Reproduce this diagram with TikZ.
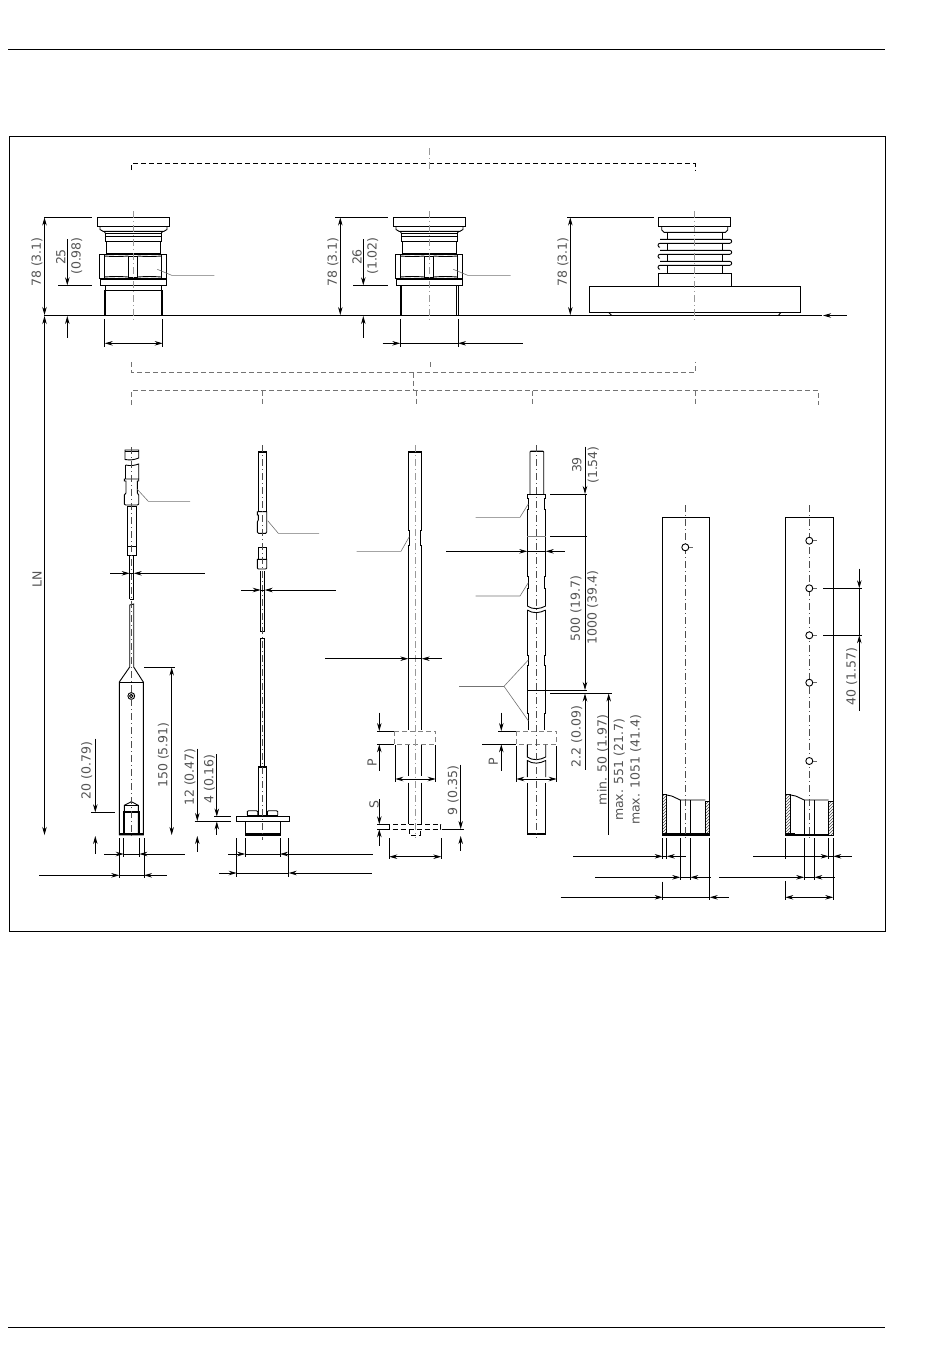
\documentclass[tikz,border=0pt]{standalone}
\usepackage{fontspec}
\setmainfont{DejaVu Sans}
\usetikzlibrary{arrows.meta,patterns}
\definecolor{dimtext}{gray}{0.33}
\definecolor{cline}{gray}{0.6}
\tikzset{
	main/.style = {draw=black, line width=0.9pt},
	heavy/.style = {draw=black, line width=1.8pt},
	dim/.style = {draw=black, line width=0.8pt},
	ext/.style = {draw=black, line width=0.7pt},
	leader/.style = {draw=black!55, line width=0.6pt},
	axis/.style = {draw=cline, line width=0.6pt, dash pattern=on 7pt off 3pt on 1pt off 3pt},
	probeaxis/.style = {draw=black!70, line width=0.5pt, dash pattern=on 7pt off 3pt on 1pt off 3pt},
	bracket/.style = {draw=black, line width=0.6pt, dash pattern=on 5pt off 3pt},
	graybracket/.style = {draw=black!55, line width=0.7pt, dash pattern=on 5pt off 3pt},
	graybox/.style = {draw=black!50, line width=1pt, dash pattern=on 5pt off 3pt},
	hatch/.style = {draw=black, line width=0.7pt, pattern=north east lines, pattern color=black!70},
	lab/.style = {text=dimtext, rotate=90, inner sep=0pt, font=\fontsize{12.5}{14}\selectfont},
}
\newcommand{\fittinghead}{
	\draw[main] (97.3,217.3) rectangle (169.7,226.7);
	\draw[main] (100,226.7) -- (100,229.5) -- (103,231.3) -- (164,231.3) -- (167,229.5) -- (167,226.7);
	\draw[main] (105.3,233) rectangle (161.3,241);
	\draw[main] (105.3,236) -- (161.3,236);
	\draw[main] (104,231.3) -- (105.3,233) (163,231.3) -- (161.3,233);
	\draw[main] (106.7,241) rectangle (160,253.3);
	\draw[main] (99.3,254.3) rectangle (166.7,278.7);
	\draw[main] (104.3,254.3) -- (104.3,278.7) (161.3,254.3) -- (161.3,278.7);
	\draw[main] (128.3,256) rectangle (137.7,277);
	\draw[main] (104.3,256) to[bend right=4] (128.3,256) (137.7,256) to[bend right=4] (161.3,256);
	\draw[main] (104.3,277) to[bend left=4] (128.3,277) (137.7,277) to[bend left=4] (161.3,277);
	\draw[main] (100.3,279.3) rectangle (166,285.3);
}
\begin{document}
\begin{tikzpicture}[x=1pt, y=-1pt, >={Stealth[length=8pt,width=4.5pt]}]
	\useasboundingbox (0,0) rectangle (950,1369);

	\draw[main] (8,49.5) -- (885,49.5);
	\draw[main] (8,1327.5) -- (885,1327.5);
	\draw[main] (9.5,136.5) rectangle (885,931);

	\draw[bracket] (131.5,170) -- (131.5,163.5) -- (695,163.5) -- (695,170);
	\draw[axis] (429,148) -- (429,172);
	\draw[graybracket] (131.5,362) -- (131.5,372.5) -- (695,372.5) -- (695,362);
	\draw[graybracket] (430.5,362) -- (430.5,367);
	\draw[graybracket] (413.5,372.5) -- (413.5,390.5);
	\draw[graybracket] (131.5,405) -- (131.5,390.5) -- (818.5,390.5) -- (818.5,405);
	\foreach \xa in {262.5,416.5,532.5,695} {
		\draw[graybracket] (\xa,390.5) -- (\xa,405);
	}

	\draw[main] (44,315.5) -- (822,315.5);
	\draw[dim,<-] (823,315.5) -- (847,315.5);

	% first fitting
	\fittinghead
	\draw[main] (105.3,285.3) -- (105.3,290) (161.3,285.3) -- (161.3,290);
	\draw[main] (104.7,290) rectangle (162.7,315.5);
	\draw[main] (105.7,290) -- (105.7,315.5) (161.3,290) -- (161.3,315.5);
	\draw[axis] (133,211) -- (133,322);
	\draw[leader] (157.3,269.3) -- (171.7,275.3) -- (214.3,275.3);
	\draw[ext] (44,217.3) -- (92,217.3);
	\draw[ext] (58,285.3) -- (92,285.3);
	\draw[dim,<->] (44.5,217.5) -- (44.5,315);
	\draw[dim,<->] (44.5,316) -- (44.5,835);
	\draw[dim,->] (67.3,239) -- (67.3,285.3);
	\draw[dim,<-] (67.3,316) -- (67.3,337.5);
	\draw[ext] (104.7,319) -- (104.7,346.5) (162.7,319) -- (162.7,346.5);
	\draw[dim,<->] (104.7,343.3) -- (162.7,343.3);
	\node[lab] (h1) at (37,262) {78 (3.1)};
	\node[lab] (d1) at (60.7,257) {25};
	\node[lab] (i1) at (76.7,256) {(0.98)};
	\node[lab] (ln) at (37,579) {LN};

	% second fitting
	\begin{scope}[xshift=296pt]
		\fittinghead
		\draw[axis] (133,211) -- (133,322);
		\draw[leader] (157.3,269.3) -- (171.7,275.3) -- (214.7,275.3);
	\end{scope}
	\draw[main] (400.3,285.3) -- (400.3,315.5) (458,285.3) -- (458,315.5);
	\draw[main] (401.4,285.3) -- (401.4,315.5) (456.8,285.3) -- (456.8,315.5);
	\draw[ext] (335,217.3) -- (388,217.3);
	\draw[ext] (353,285.3) -- (388,285.3);
	\draw[dim,<->] (340.3,217.5) -- (340.3,315);
	\draw[dim,->] (363.3,239) -- (363.3,285.3);
	\draw[dim,<-] (363.3,316) -- (363.3,337.5);
	\draw[ext] (400.3,319) -- (400.3,346.5) (458,319) -- (458,346.5);
	\draw[dim,->] (382.5,343.3) -- (400.3,343.3);
	\draw[dim] (400.3,343.3) -- (458,343.3);
	\draw[dim,<-] (458,343.3) -- (522.5,343.3);
	\node[lab] (h2) at (333,262) {78 (3.1)};
	\node[lab] (d2) at (357,257) {26};
	\node[lab] (i2) at (372.7,256) {(1.02)};

	% third fitting
	\draw[main] (658.3,217.3) rectangle (730.7,226.7);
	\draw[main] (661.7,226.7) -- (661.7,230) to[bend right=20] (664,232.3) -- (725.5,232.3) to[bend right=20] (727.7,230) -- (727.7,226.7);
	\draw[main] (667.3,232.3) -- (667.3,273.3) (722.7,232.3) -- (722.7,273.3);
	\foreach \ya in {239.3,250.3,261.3} {
		\draw[main, fill=white] (660,\ya) -- (729.7,\ya) arc (-90:90:2) -- (660,\ya+4) arc (270:90:2);
	}
	\draw[main] (658.3,273.3) rectangle (731.7,286.3);
	\draw[main] (589.3,286.3) rectangle (800.7,312.7);
	\draw[main] (609,312.7) -- (611.7,315.5) (780.7,312.7) -- (778.3,315.5);
	\draw[axis] (694.7,211) -- (694.7,322);
	\draw[ext] (567,217.3) -- (654,217.3);
	\draw[dim,<->] (570.3,217.5) -- (570.3,315);
	\node[lab] (h3) at (563,262) {78 (3.1)};

	% rope probe
	\draw[main] (125,450) -- (138.7,450) -- (138.7,458) to[bend left=15] (125,459.5) -- cycle;
	\draw[main] (125,451.5) -- (138.7,451.5);
	\draw[main] (125.5,465) to[bend right=15] (138.7,464) -- (138.7,479);
	\draw[main] (125.5,465) -- (125.5,479);
	\draw[main] (124.3,479) -- (138.7,479) -- (138.7,481) -- (137.3,481) -- (137.3,493) -- (138.7,495) -- (138.7,504) -- (137.5,505) -- (125.5,505) -- (124.3,504) -- (124.3,495) -- (126,493) -- (126,481) -- (124.3,481) -- cycle;
	\draw[main] (127.3,506) rectangle (136.7,555);
	\draw[heavy] (127.3,506.5) -- (136.7,506.5);
	\draw[main] (127.3,546) rectangle (136.7,555.5);
	\draw[main] (129.7,556) -- (129.7,599) (133.7,556) -- (133.7,599) (129.7,599) -- (133.7,599);
	\draw[main] (129.7,667) -- (129.7,605) -- (133.7,604) -- (133.7,667);
	\draw[main] (129.7,667) -- (119.3,682) -- (119.3,835) -- (143.3,835) -- (143.3,682) -- (133.7,667);
	\draw[main] (119.3,682) -- (143.3,682);
	\draw[main] (131.3,696) circle (3.4);
	\draw[main] (131.3,696) circle (1.8);
	\draw[main] (124.3,834) -- (124.3,805.3) -- (131.3,801.7) -- (138.3,805.3) -- (138.3,834);
	\draw[main] (124.3,805.3) -- (138.3,805.3);
	\draw[heavy] (124,834) -- (124,812.3) -- (139.5,812.3) -- (139.5,834);
	\draw[heavy] (120,834.2) -- (143,834.2);
	\draw[probeaxis] (131.3,447) -- (131.3,839);
	\draw[leader] (137.3,489.3) -- (148.3,501.3) -- (190,501.3);
	\draw[dim,->] (110,573.3) -- (129.7,573.3);
	\draw[dim] (129.7,573.3) -- (133.7,573.3);
	\draw[dim,<-] (133.7,573.3) -- (205,573.3);
	\draw[ext] (144,667.3) -- (174.5,667.3);
	\draw[dim,<->] (171.7,667.5) -- (171.7,835);
	\draw[dim,->] (95.3,738.5) -- (95.3,812.3);
	\draw[dim,<-] (95.3,836) -- (95.3,853.5);
	\draw[ext] (91,812.3) -- (115,812.3);
	\draw[dim,->] (197.3,748.5) -- (197.3,821);
	\draw[dim,<-] (197.3,836) -- (197.3,851.5);
	\draw[dim,->] (216.8,754) -- (216.8,816.5);
	\draw[dim,<-] (216.8,821.5) -- (216.8,835);
	\draw[ext] (194.5,821.3) -- (231,821.3);
	\draw[ext] (214,816.3) -- (231,816.3);
	\draw[ext] (119.3,838) -- (119.3,877.5) (144,838) -- (144,877.5);
	\draw[ext] (123.7,838) -- (123.7,857) (139.4,838) -- (139.4,857);
	\draw[dim,->] (104,854) -- (123.7,854);
	\draw[dim] (123.7,854) -- (139.4,854);
	\draw[dim,<-] (139.4,854) -- (185,854);
	\draw[dim,->] (39,875.3) -- (119.3,875.3);
	\draw[dim] (119.3,875.3) -- (144,875.3);
	\draw[dim,<-] (144,875.3) -- (167,875.3);
	\node[lab] (a1) at (86.7,770.7) {20 (0.79)};
	\node[lab] (a2) at (163.5,755) {150 (5.91)};
	\node[lab] (a3) at (190,777) {12 (0.47)};
	\node[lab] (a4) at (209.5,779) {4 (0.16)};

	% rope probe with flange
	\draw[main] (258.3,451) rectangle (266.7,511.7);
	\draw[heavy] (258.3,451.7) -- (266.7,451.7);
	\draw[main] (257.3,511.7) -- (266.7,511.7) -- (266.7,532) -- (265.7,533.3) -- (258.5,533.3) -- (257.3,532) -- (257.3,522) -- (258.3,520) -- (258.3,515) -- (257.3,515) -- cycle;
	\draw[main] (258.3,547.3) rectangle (266.7,559.3);
	\draw[main] (257.3,559.3) -- (266.7,559.3) -- (266.7,568) -- (265.7,569) -- (258.3,569) -- (257.3,568) -- cycle;
	\draw[main] (260.7,571) -- (260.7,631) -- (264.7,631) -- (264.7,571);
	\draw[main] (260.7,766) -- (260.7,638.5) -- (264.7,638.5) -- (264.7,766);
	\draw[main] (258.3,767) rectangle (266.7,815);
	\draw[heavy] (258.3,767) -- (266.7,767);
	\draw[main] (247.3,815) -- (247.3,811.5) -- (248.5,810.7) -- (256.5,810.7) -- (257.7,811.5) -- (257.7,815);
	\draw[main] (267.3,815) -- (267.3,811.5) -- (268.5,810.7) -- (276.5,810.7) -- (277.7,811.5) -- (277.7,815);
	\draw[main] (247.3,815.5) -- (277.7,815.5);
	\draw[main] (236.3,816.3) rectangle (289,821.3);
	\draw[main] (245.3,821.3) -- (245.3,835) -- (280,835) -- (280,821.3);
	\draw[heavy] (245.3,834) -- (280,834);
	\draw[probeaxis] (262.3,445) -- (262.3,840);
	\draw[leader] (267.7,520.7) -- (278.3,533.3) -- (319,533.3);
	\draw[dim,->] (241,590) -- (260.7,590);
	\draw[dim] (260.7,590) -- (264.7,590);
	\draw[dim,<-] (264.7,590) -- (336,590);
	\draw[ext] (236.7,838) -- (236.7,877) (288.7,838) -- (288.7,877);
	\draw[ext] (245.3,838) -- (245.3,857) (280,838) -- (280,857);
	\draw[dim,->] (228.3,854) -- (245.3,854);
	\draw[dim] (245.3,854) -- (280,854);
	\draw[dim,<-] (280,854) -- (372.7,854);
	\draw[dim,->] (219.3,873) -- (236.7,873);
	\draw[dim] (236.7,873) -- (288.7,873);
	\draw[dim,<-] (288.7,873) -- (372,873);

	% rod probe
	\draw[main] (408.3,451) -- (421.7,451);
	\draw[main] (408.3,452.5) -- (421.7,452.5);
	\draw[main] (408.3,451) -- (408.3,530) -- (409.5,530) -- (409.5,545) -- (408.3,545) -- (408.3,730);
	\draw[main] (421.7,451) -- (421.7,530) -- (420.5,530) -- (420.5,545) -- (421.7,545) -- (421.7,730);
	\draw[main] (408.3,744.5) -- (408.3,776) (421.7,744.5) -- (421.7,776);
	\draw[main] (408.3,782.5) -- (408.3,824) (421.7,782.5) -- (421.7,824);
	\draw[graybox] (394.3,731) rectangle (435.7,744);
	\draw[bracket] (389.3,824.3) rectangle (440.7,829);
	\draw[bracket] (409.3,829) -- (409.3,835) -- (420.7,835) -- (420.7,829);
	\draw[axis] (415,445) -- (415,838);
	\draw[leader] (409.3,536.7) -- (401,551.3) -- (356.7,551.3);
	\draw[dim,->] (325,658.7) -- (408.3,658.7);
	\draw[dim] (408.3,658.7) -- (421.7,658.7);
	\draw[dim,<-] (421.7,658.7) -- (442.3,658.7);
	\draw[ext] (395.3,745) -- (395.3,782) (435.7,745) -- (435.7,782);
	\draw[dim,<->] (395.3,779) -- (435.7,779);
	\draw[ext] (377,731) -- (394,731) (377,744.3) -- (394,744.3);
	\draw[dim,->] (379.3,712.5) -- (379.3,731);
	\draw[dim,<-] (379.3,744.3) -- (379.3,771);
	\draw[ext] (377,824.3) -- (389,824.3) (377,829.2) -- (389,829.2);
	\draw[dim,->] (379.3,799) -- (379.3,824.3);
	\draw[dim,<-] (379.3,829.2) -- (379.3,845.5);
	\draw[ext] (442,829) -- (463.5,829);
	\draw[dim,->] (460.7,764.5) -- (460.7,829);
	\draw[dim,<-] (460.7,836) -- (460.7,851);
	\draw[ext] (389.3,838) -- (389.3,859) (441.3,838) -- (441.3,859);
	\draw[dim,<->] (389.3,856.7) -- (441.3,856.7);
	\node[lab] (p1) at (372,762.3) {P};
	\node[lab] (s1) at (374,805) {S};
	\node[lab] (a5) at (453.3,790.7) {9 (0.35)};

	% segmented rod probe
	\draw[main] (530,494.3) -- (530,452) -- (531,451) -- (542.7,451) -- (543.7,452) -- (543.7,494.3);
	\draw[heavy] (531,451.5) -- (542.7,451.5);
	\draw[main] (527.3,494.3) -- (545.7,494.3);
	\draw[main] (527.3,494.3) -- (527.3,498) -- (528.3,498) -- (528.3,509) -- (527.3,509) -- (527.3,576) -- (528.5,576) -- (528.5,588.5) -- (527.3,588.5) -- (527.3,606);
	\draw[main] (545.7,494.3) -- (545.7,498) -- (544.7,498) -- (544.7,509) -- (545.7,509) -- (545.7,576) -- (544.5,576) -- (544.5,588.5) -- (545.7,588.5) -- (545.7,606);
	\draw[main] (527.3,606) .. controls (533,610) and (540,609) .. (545.7,606);
	\draw[main] (527.3,610) .. controls (533,614) and (540,613) .. (545.7,610);
	\draw[main] (527.3,610) -- (527.3,655) -- (528.5,655) -- (528.5,665) -- (527.3,665) -- (527.3,713) -- (528.5,713) -- (528.5,730);
	\draw[main] (545.7,610) -- (545.7,655) -- (544.5,655) -- (544.5,665) -- (545.7,665) -- (545.7,713) -- (544.5,713) -- (544.5,730);
	\draw[draw=black!50, line width=0.8pt] (527.3,536) -- (545.7,536);
	\draw[ext] (527.3,690.3) -- (587,690.3);
	\draw[graybox] (516.3,731) rectangle (556.7,744.3);
	\draw[main] (527.3,744.5) -- (527.3,757) .. controls (533,761) and (540,760) .. (545.7,757) -- (545.7,744.5);
	\draw[main] (527.3,777) -- (527.3,760.5) .. controls (533,764.5) and (540,763.5) .. (545.7,760.5) -- (545.7,777);
	\draw[main] (527.3,783) -- (527.3,835) (545.7,783) -- (545.7,835);
	\draw[heavy] (527.3,834.2) -- (545.7,834.2);
	\draw[probeaxis] (536.7,445) -- (536.7,838);
	\draw[leader] (528.3,504) -- (520,517.3) -- (475.7,517.3);
	\draw[leader] (528.3,582.7) -- (520,596) -- (475.7,596);
	\draw[leader] (528.3,660) -- (504,686.3) -- (528.3,720.7);
	\draw[leader] (504,686.3) -- (459.3,686.3);
	\draw[dim,->] (446,551.3) -- (527.3,551.3);
	\draw[dim] (527.3,551.3) -- (545.7,551.3);
	\draw[dim,<-] (545.7,551.3) -- (565,551.3);
	\draw[ext] (516.3,746) -- (516.3,782) (556.7,746) -- (556.7,782);
	\draw[dim,<->] (516.3,779) -- (556.7,779);
	\draw[ext] (498,731) -- (516,731) (482,744.3) -- (516,744.3);
	\draw[dim,->] (501.3,712.5) -- (501.3,731);
	\draw[dim,<-] (501.3,744.3) -- (501.3,771);
	\draw[ext] (550,494.3) -- (587,494.3) (550,536) -- (587,536);
	\draw[ext] (550,693.3) -- (611.5,693.3);
	\draw[dim,->] (585,446.7) -- (585,494);
	\draw[dim,->] (585,494.3) -- (585,690);
	\draw[dim,<-] (585,693.5) -- (585,770);
	\draw[dim,<-] (608.7,693.5) -- (608.7,835);
	\node[lab] (p2) at (493.3,761.7) {P};
	\node[lab] (b1) at (576.7,465) {39};
	\node[lab] (b2) at (593.3,465) {(1.54)};
	\node[lab] (b3) at (576,608.3) {500 (19.7)};
	\node[lab] (b4) at (592.7,607.7) {1000 (39.4)};
	\node[lab] (b5) at (576.7,736.7) {2.2 (0.09)};
	\node[lab] (b6) at (602.7,760) {min. 50 (1.97)};
	\node[lab] (b7) at (619.3,770) {max. 551 (21.7)};
	\node[lab] (b8) at (635.7,770) {max. 1051 (41.4)};

	% pipe with one hole
	\draw[main] (662.3,517.3) rectangle (709.7,835);
	\draw[hatch] (662.7,794.3) rectangle (666.7,835);
	\draw[hatch] (705.3,801) rectangle (709.3,835);
	\draw[main] (666.7,795) -- (671.7,796) -- (680.3,800) -- (705.3,800);
	\draw[main] (680.3,800) -- (680.3,835) (690.3,800) -- (690.3,835);
	\draw[heavy] (662.3,834.2) -- (709.7,834.2);
	\draw[probeaxis] (685.3,505) -- (685.3,839);
	\draw[main,fill=white] (685.3,547.3) circle (3.5);
	\draw[draw=black!60, line width=0.5pt] (688.8,547.3) -- (693,547.3);
	\draw[ext] (662.7,838) -- (662.7,859) (666.7,838) -- (666.7,859);
	\draw[dim,->] (573.3,856.3) -- (662.7,856.3);
	\draw[dim] (662.7,856.3) -- (666.7,856.3);
	\draw[dim,<-] (666.7,856.3) -- (686,856.3);
	\draw[ext] (680.3,838) -- (680.3,880) (690.3,838) -- (690.3,880);
	\draw[dim,->] (595,877.3) -- (680.3,877.3);
	\draw[dim] (680.3,877.3) -- (690.3,877.3);
	\draw[dim,<-] (690.3,877.3) -- (710.7,877.3);
	\draw[ext] (662.7,881.5) -- (662.7,900) (709.7,838) -- (709.7,900);
	\draw[dim,->] (560.7,897.3) -- (662.7,897.3);
	\draw[dim] (662.7,897.3) -- (709.7,897.3);
	\draw[dim,<-] (709.7,897.3) -- (729.3,897.3);

	% pipe with hole row
	\draw[main] (785.3,517.3) rectangle (833.3,835);
	\draw[hatch] (785.7,794.3) rectangle (790.7,835);
	\draw[hatch] (828.7,801) rectangle (833.3,835);
	\draw[main] (790.7,795) -- (795.7,796) -- (804.3,800) -- (828.7,800);
	\draw[main] (804.3,800) -- (804.3,835) (814.3,800) -- (814.3,835);
	\draw[main] (790.7,834) -- (828.7,834);
	\draw[heavy] (785.3,834.2) -- (795,834.2);
	\draw[probeaxis] (809.3,505) -- (809.3,839);
	\foreach \ya in {540.7,588.3,635.3,682.7,761} {
		\draw[main,fill=white] (809.3,\ya) circle (3.5);
		\draw[draw=black!60, line width=0.5pt] (812.8,\ya) -- (817,\ya);
	}
	\draw[ext] (823.3,588.3) -- (862,588.3) (823.3,635.3) -- (862,635.3);
	\draw[dim,->] (859.3,568.5) -- (859.3,588.3);
	\draw[dim] (859.3,588.3) -- (859.3,635.3);
	\draw[dim,<-] (859.3,635.3) -- (859.3,711);
	\node[lab] (c1) at (851.7,676.7) {40 (1.57)};
	\draw[ext] (804.3,838) -- (804.3,880) (814.3,838) -- (814.3,880);
	\draw[ext] (828.7,838) -- (828.7,859) (833.3,838) -- (833.3,900);
	\draw[ext] (785.3,838) -- (785.3,859) (785.3,881) -- (785.3,900);
	\draw[dim,->] (753.3,856.3) -- (828.7,856.3);
	\draw[dim] (828.7,856.3) -- (833.3,856.3);
	\draw[dim,<-] (833.3,856.3) -- (851.7,856.3);
	\draw[dim,->] (719,877.3) -- (804.3,877.3);
	\draw[dim] (804.3,877.3) -- (814.3,877.3);
	\draw[dim,<-] (814.3,877.3) -- (835,877.3);
	\draw[dim,<->] (785.3,897.3) -- (833.3,897.3);
\end{tikzpicture}
\end{document}
